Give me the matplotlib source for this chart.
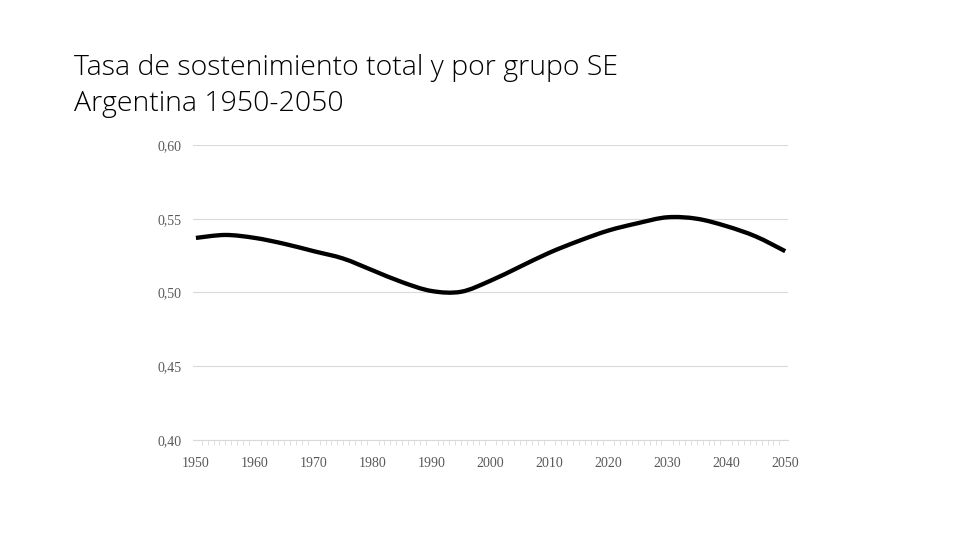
import matplotlib
matplotlib.use("Agg")
import matplotlib.pyplot as plt
from matplotlib.path import Path
from matplotlib.patches import PathPatch
from matplotlib.ticker import MultipleLocator

# data (5-year steps)
years = [1950, 1955, 1960, 1965, 1970, 1975, 1980, 1985, 1990, 1995, 2000,
         2005, 2010, 2015, 2020, 2025, 2030, 2035, 2040, 2045, 2050]
tasa = [0.537, 0.539, 0.537, 0.533, 0.528, 0.523, 0.515, 0.507, 0.501, 0.5005, 0.508,
        0.5175, 0.527, 0.535, 0.542, 0.547, 0.551, 0.550, 0.545, 0.538, 0.528]
yticks = [0.40, 0.45, 0.50, 0.55, 0.60]
xticks = list(range(1950, 2051, 10))

fig = plt.figure(figsize=(9.6, 5.4), dpi=100)
ax = fig.add_axes([0.201, 0.1852, 0.620, 0.5463])

# smooth line like Excel (bezier through the points)
pts = list(zip(years, tasa))
verts = [pts[0]]
codes = [Path.MOVETO]
n = len(pts)
for i in range(n - 1):
    p0 = pts[i - 1] if i > 0 else pts[i]
    p1 = pts[i]
    p2 = pts[i + 1]
    p3 = pts[i + 2] if i + 2 < n else pts[i + 1]
    c1 = (p1[0] + (p2[0] - p0[0]) / 6, p1[1] + (p2[1] - p0[1]) / 6)
    c2 = (p2[0] - (p3[0] - p1[0]) / 6, p2[1] - (p3[1] - p1[1]) / 6)
    verts += [c1, c2, p2]
    codes += [Path.CURVE4] * 3
ax.add_patch(PathPatch(Path(verts, codes), facecolor="none", edgecolor="black",
                       lw=3.1, capstyle="butt", joinstyle="round", zorder=3))

ax.set_xlim(1949.5, 2050.5)
ax.set_ylim(0.40, 0.60)
ax.set_yticks(yticks)
ax.set_yticklabels([f"{v:.2f}".replace(".", ",") for v in yticks])
ax.set_xticks(xticks)
ax.set_xticklabels([str(x) for x in xticks])
ax.xaxis.set_minor_locator(MultipleLocator(1))

ax.grid(axis="y", color="#d9d9d9", lw=0.8)
ax.set_axisbelow(True)
for s in ["top", "right", "left"]:
    ax.spines[s].set_visible(False)
ax.spines["bottom"].set_color("#d9d9d9")
ax.spines["bottom"].set_linewidth(0.8)

ax.tick_params(axis="y", length=0, pad=8, labelsize=10, labelcolor="#595959")
ax.tick_params(axis="x", which="major", length=0, pad=12, labelsize=10, labelcolor="#595959")
ax.tick_params(axis="x", which="minor", length=3.5, width=0.6, color="#d9d9d9", direction="out")
for lab in ax.get_xticklabels() + ax.get_yticklabels():
    lab.set_family(["Liberation Serif", "DejaVu Serif"])

title_font = dict(fontsize=20.5, family=["Open Sans", "DejaVu Sans"], weight="light",
                  color="black", va="baseline", ha="left")
fig.text(0.077, 0.861, "Tasa de sostenimiento total y por grupo SE", **title_font)
fig.text(0.077, 0.795, "Argentina 1950-2050", **title_font)

fig.savefig("out.png", dpi=100)
